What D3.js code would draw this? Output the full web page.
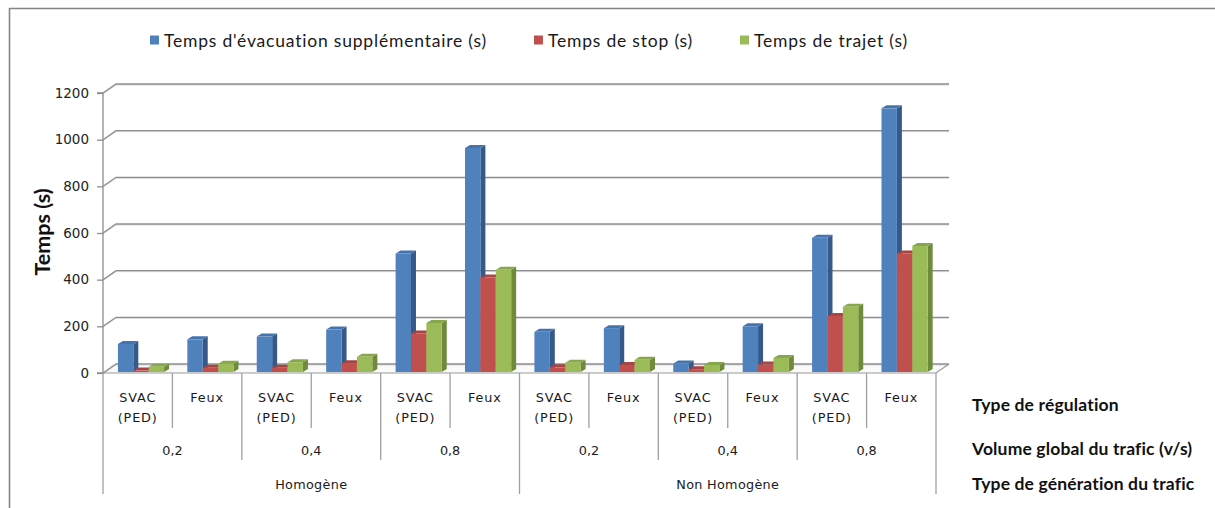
<!DOCTYPE html>
<html>
<head>
<meta charset="utf-8">
<script src="https://cdn.jsdelivr.net/npm/d3@7"></script>
<style>
  html, body { margin: 0; padding: 0; background: #fff; }
  svg { display: block; }
</style>
</head>
<body>
<svg id="chart" width="1215" height="508"></svg>
<script>
// ---- data ----
const regulation = ["SVAC (PED)", "Feux", "SVAC (PED)", "Feux", "SVAC (PED)", "Feux",
                    "SVAC (PED)", "Feux", "SVAC (PED)", "Feux", "SVAC (PED)", "Feux"];
const volumes = ["0,2", "0,4", "0,8", "0,2", "0,4", "0,8"];
const generation = ["Homogène", "Non Homogène"];
const seriesNames = ["Temps d'évacuation supplémentaire (s)", "Temps de stop (s)", "Temps de trajet (s)"];
const evacuation = [120, 140, 152, 182, 508, 960, 172, 188, 36, 196, 575, 1130];
const stop = [6, 18, 18, 38, 165, 405, 20, 30, 12, 32, 240, 508];
const trajet = [22, 35, 42, 65, 210, 438, 40, 52, 30, 60, 280, 540];
const yTicks = [0, 200, 400, 600, 800, 1000, 1200];
const rightLabels = ["Type de régulation", "Volume global du trafic (v/s)", "Type de génération du trafic"];

const seriesValues = [evacuation, stop, trajet];
const colors = [
  { front: "#4F81BD", side: "#34598A", top: "#4473AE" },
  { front: "#C0504D", side: "#8E3936", top: "#A84441" },
  { front: "#9BBB59", side: "#6F8A3B", top: "#88A74A" }
];

const svg = d3.select("#chart");

// frame
svg.append("line").attr("x1", 9).attr("x2", 1215).attr("y1", 8.5).attr("y2", 8.5)
  .attr("stroke", "#858585").attr("stroke-width", 1.6);
svg.append("line").attr("x1", 9.5).attr("x2", 9.5).attr("y1", 8).attr("y2", 508)
  .attr("stroke", "#858585").attr("stroke-width", 1.6);

// scales
const y = d3.scaleLinear().domain([0, 1200]).range([373, 93]);
const x = d3.scaleBand().domain(d3.range(regulation.length)).range([103, 936]).paddingInner(0).paddingOuter(0);
const bw = x.bandwidth();
const inner = d3.scaleBand().domain(d3.range(3)).range([bw * 0.215, bw * 0.88]);
const DX = 13, DY = -9;     // wall depth
const BDX = 5, BDY = -3;    // bar depth

const grid = svg.append("g");
const x0 = x.range()[0], x1 = x.range()[1];
grid.append("path")
  .attr("d", `M${x0},${y(0)} L${x0 + DX},${y(0) + DY} L${x1 + DX},${y(0) + DY} L${x1},${y(0)} Z`)
  .attr("fill", "#fafafa").attr("stroke", "none");
yTicks.forEach(v => {
  const yy = y(v);
  grid.append("path")
    .attr("d", `M${x0},${yy + 1} L${x0 + DX},${yy + DY + 1} L${x1 + DX},${yy + DY + 1}`)
    .attr("fill", "none").attr("stroke", "#d6d6d6").attr("stroke-width", 1);
  grid.append("path")
    .attr("d", `M${x0},${yy} L${x0 + DX},${yy + DY} L${x1 + DX},${yy + DY}`)
    .attr("fill", "none").attr("stroke", "#8e8e8e").attr("stroke-width", 1.3);
});
grid.append("path")
  .attr("d", `M${x0},${y(0)} L${x1},${y(0)} L${x1 + DX},${y(0) + DY}`)
  .attr("fill", "none").attr("stroke", "#9a9a9a").attr("stroke-width", 1.2);

// y axis
const yAxis = d3.axisLeft(y).tickValues(yTicks).tickSize(6).tickPadding(8).tickFormat(d3.format("d"));
const ga = svg.append("g").attr("transform", `translate(${x0},0)`).call(yAxis);
ga.select(".domain").attr("stroke", "#8e8e8e").attr("stroke-width", 1.3).attr("d", `M-6,${y(1200)}H0V${y(0)}H-6`);
ga.selectAll(".tick line").attr("stroke", "#8e8e8e").attr("stroke-width", 1.3);
ga.selectAll(".tick text").attr("font-family", "DejaVu Sans").attr("font-size", 13.5).attr("fill", "#222");

// bars
const bars = svg.append("g");
regulation.forEach((c, i) => {
  seriesValues.forEach((vals, s) => {
    const v = vals[i];
    const bx = x(i) + inner(s);
    const w = inner.bandwidth();
    const base = y(0) - 1;
    const top = y(v) - 1;
    const col = colors[s];
    bars.append("path")
      .attr("d", `M${bx + w},${base} L${bx + w + BDX},${base + BDY} L${bx + w + BDX},${top + BDY} L${bx + w},${top} Z`)
      .attr("fill", col.side);
    bars.append("path")
      .attr("d", `M${bx},${top} L${bx + BDX},${top + BDY} L${bx + w + BDX},${top + BDY} L${bx + w},${top} Z`)
      .attr("fill", col.top);
    bars.append("rect")
      .attr("x", bx).attr("y", top).attr("width", w).attr("height", Math.max(0, base - top))
      .attr("fill", col.front);
  });
});

// category axis (multi-level)
const cat = svg.append("g").attr("font-family", "DejaVu Sans").attr("font-size", 12.8).attr("fill", "#1a1a1a");
const lineCol = "#a0a0a0";
for (let i = 0; i <= regulation.length; i++) {
  const xx = i < regulation.length ? x(i) : x1;
  let bottom = 428;
  if (i % 2 === 0) bottom = 460;
  if (i % 6 === 0) bottom = 494;
  cat.append("line").attr("x1", xx).attr("x2", xx).attr("y1", y(0)).attr("y2", bottom)
    .attr("stroke", lineCol).attr("stroke-width", 1.3);
}
regulation.forEach((c, i) => {
  const cx = x(i) + bw / 2;
  const parts = c.split(" ");
  const t = cat.append("text").attr("text-anchor", "middle").attr("letter-spacing", 0.9);
  parts.forEach((p, k) => {
    t.append("tspan").attr("x", cx).attr("y", 402 + k * 20).text(p);
  });
});
volumes.forEach((v, j) => {
  const cx = (x(j * 2) + (j * 2 + 2 < regulation.length ? x(j * 2 + 2) : x1)) / 2;
  cat.append("text").attr("text-anchor", "middle").attr("x", cx).attr("y", 455).text(v);
});
generation.forEach((g, j) => {
  const cx = (x(j * 6) + (j * 6 + 6 < regulation.length ? x(j * 6 + 6) : x1)) / 2;
  cat.append("text").attr("text-anchor", "middle").attr("x", cx).attr("y", 489).attr("letter-spacing", 0.3).text(g);
});

// right labels
const rl = svg.append("g").attr("font-family", "Lato").attr("font-weight", "bold").attr("font-size", 17.5).attr("letter-spacing", 0.15).attr("fill", "#111");
[411, 455, 490].forEach((yy, k) => {
  rl.append("text").attr("x", 972).attr("y", yy).text(rightLabels[k]);
});

// y title
svg.append("text")
  .attr("transform", `translate(50,232) rotate(-90)`)
  .attr("text-anchor", "middle")
  .attr("font-family", "Lato").attr("font-weight", "bold").attr("font-size", 21.5).attr("fill", "#111")
  .text("Temps (s)");

// legend
const lg = svg.append("g").attr("font-family", "Lato").attr("font-size", 17.5).attr("letter-spacing", 0.8).attr("fill", "#1a1a1a");
let lx = 150;
seriesNames.forEach((n, s) => {
  lg.append("rect").attr("x", lx).attr("y", 35.5).attr("width", 9).attr("height", 9).attr("fill", colors[s].front);
  const t = lg.append("text").attr("x", lx + 14).attr("y", 46.5).text(n);
  const w = t.node().getComputedTextLength();
  lx = lx + 14 + w + 47;
});
</script>
</body>
</html>
